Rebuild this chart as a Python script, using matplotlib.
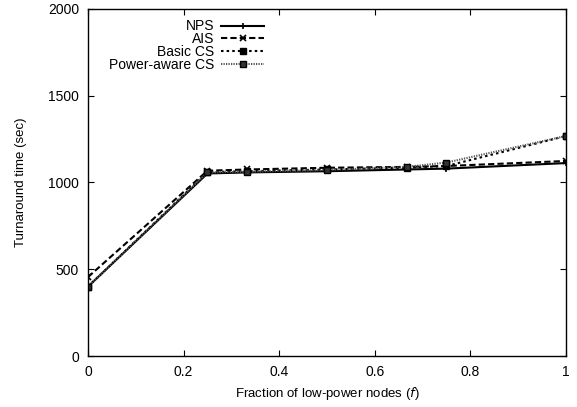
import matplotlib
matplotlib.use("Agg")
import matplotlib.pyplot as plt

plt.rcParams['font.family'] = ['Liberation Sans', 'DejaVu Sans']

x = [0, 0.25, 1/3, 0.5, 2/3, 0.75, 1]
nps = [400, 1052, 1058, 1065, 1075, 1080, 1112]
ais = [455, 1068, 1075, 1085, 1090, 1095, 1124]
basic_cs = [400, 1060, 1065, 1075, 1085, 1095, 1268]
power_cs = [400, 1058, 1062, 1072, 1090, 1115, 1268]

labels = ["NPS", "AIS", "Basic CS", "Power-aware CS"]
xticks = [0, 0.2, 0.4, 0.6, 0.8, 1]
yticks = [0, 500, 1000, 1500, 2000]

fig = plt.figure(figsize=(5.77, 4.07), dpi=100)
ax = fig.add_axes([0.1525, 0.1253, 0.8284, 0.8526])

ax.plot(x, nps, color='black', lw=1.5, ls='-', marker='+', ms=5, mew=1.2, label=labels[0])
ax.plot(x, ais, color='black', lw=1.5, ls=(0, (3, 1.5)), marker='x', ms=4, mew=1.2, label=labels[1])
ax.plot(x, basic_cs, color='black', lw=1.5, ls=(0, (1.2, 1.5)), marker='s', ms=4, label=labels[2])
ax.plot(x, power_cs, color='#555555', lw=1.5, ls=(0, (0.6, 0.6)), marker='s', ms=5,
        mfc='#333333', mec='black', label=labels[3])

ax.set_xlim(0, 1)
ax.set_ylim(0, 2000)
ax.set_xticks(xticks)
ax.set_xticklabels(['0', '0.2', '0.4', '0.6', '0.8', '1'])
ax.set_yticks(yticks)
ax.tick_params(direction='in', top=True, right=True, labelsize=10, length=4, pad=6.5)
for s in ax.spines.values():
    s.set_linewidth(1.0)

ax.set_xlabel("Fraction of low-power nodes ($\\it{f}$)", fontsize=9.5, labelpad=4)
ax.set_ylabel("Turnaround time (sec)", fontsize=9.5, labelpad=15)

leg = ax.legend(loc='upper right', bbox_to_anchor=(0.391, 1.0), frameon=False, fontsize=10,
                markerfirst=False, handlelength=3.1, handletextpad=0.5, labelspacing=-0.08,
                borderaxespad=0.35)
for t in leg.get_texts():
    t.set_ha('right')
leg._legend_box.align = 'right'

fig.savefig("out.png", dpi=100)
